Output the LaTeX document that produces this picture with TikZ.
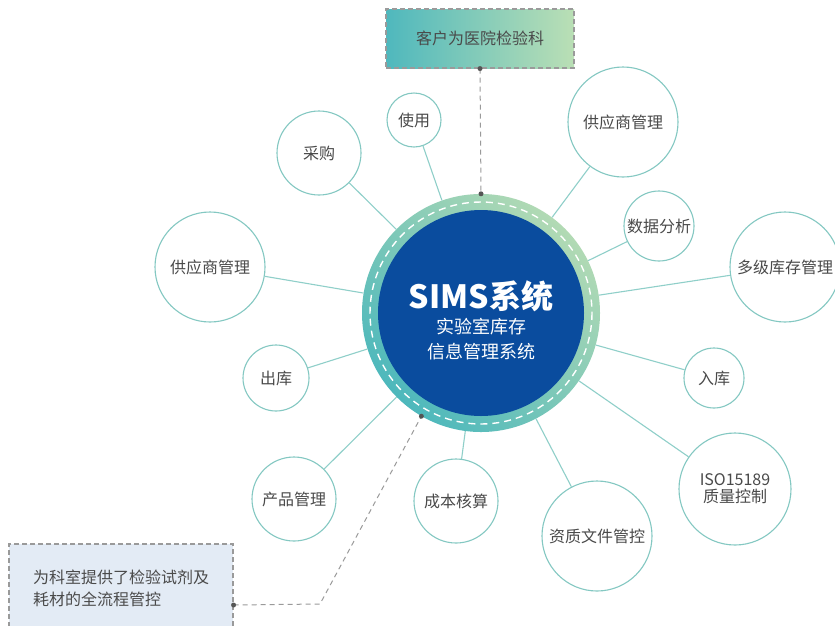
\documentclass[tikz,border=0pt]{standalone}
\usepackage{fontspec}
\setmainfont{Noto Sans CJK SC}
\definecolor{sblue}{HTML}{0A4C9E}
\definecolor{ringteal}{HTML}{4DB8BC}
\definecolor{ringgreen}{HTML}{B2DAB4}
\definecolor{conncol}{HTML}{8FCFC9}
\definecolor{satborder}{HTML}{84C8C2}
\definecolor{txt}{HTML}{4A4A4A}
\definecolor{dashgray}{HTML}{9A9A9A}
\definecolor{boxblue}{HTML}{E3EBF5}
\definecolor{darkdot}{HTML}{555555}
\definecolor{topleft}{HTML}{4FB8BD}
\definecolor{topright}{HTML}{BADFB5}
\begin{document}
\begin{tikzpicture}[x=1pt,y=-1pt,
  sat/.style={circle, draw=satborder, line width=1.1pt, fill=white, inner sep=0pt,
    text=txt, font=\fontsize{16}{20}\selectfont, align=center},
  conn/.style={draw=conncol, line width=1.1pt},
  dashline/.style={draw=dashgray, line width=1pt, dash pattern=on 5pt off 4pt},
  dotnode/.style={circle, fill=darkdot, inner sep=0pt, minimum size=5pt},
  boxstyle/.style={rectangle, draw=dashgray, line width=1.1pt, dash pattern=on 5pt off 3pt, inner sep=0pt}]
\useasboundingbox (0,0) rectangle (835,625);
\fill[white] (0,0) rectangle (835,625);

% hub
\shade[top color=ringgreen, bottom color=ringteal, shading angle=-45] (481,313) circle[radius=119];
\fill[sblue] (481,313) circle[radius=103];
\draw[white, line width=1.4pt, dash pattern=on 7pt off 5pt] (481,313) circle[radius=111];
\node[circle, minimum size=238pt, inner sep=0pt] (hub) at (481,313) {};
\node[text=white, font=\fontsize{32}{36}\selectfont\bfseries, inner sep=0pt] (title) at (481,296) {SIMS系统};
\node[text=white, font=\fontsize{18}{22}\selectfont, inner sep=0pt] (sub1) at (481,327) {实验室库存};
\node[text=white, font=\fontsize{18}{22}\selectfont, inner sep=0pt] (sub2) at (481,352) {信息管理系统};

% satellites
\node[sat, minimum size=54pt]  (s1)  at (414,120) {使用};
\node[sat, minimum size=84pt]  (s2)  at (319,153) {采购};
\node[sat, minimum size=110pt] (s3)  at (210,267) {供应商管理};
\node[sat, minimum size=66pt]  (s4)  at (276,378) {出库};
\node[sat, minimum size=84pt]  (s5)  at (294,499) {产品管理};
\node[sat, minimum size=84pt]  (s6)  at (456,501) {成本核算};
\node[sat, minimum size=110pt] (s7)  at (597,536) {资质文件管控};
\node[sat, minimum size=112pt] (s8)  at (735,489) {ISO15189\\[-3pt]质量控制};
\node[sat, minimum size=60pt]  (s9)  at (714,378) {入库};
\node[sat, minimum size=110pt] (s10) at (785,267) {多级库存管理};
\node[sat, minimum size=70pt]  (s11) at (659,226) {数据分析};
\node[sat, minimum size=110pt] (s12) at (623,122) {供应商管理};

\foreach \s in {s1,s2,s3,s4,s5,s6,s7,s8,s9,s10,s11,s12}
  \draw[conn] (\s) -- (hub);

% top box
\node[boxstyle, left color=topleft, right color=topright, minimum width=188pt, minimum height=59pt,
  text=txt, font=\fontsize{16}{20}\selectfont] (topbox) at (480,38.5) {客户为医院检验科};

% bottom box
\node[boxstyle, fill=boxblue, minimum width=224pt, minimum height=122pt] (botbox) at (121,605) {};
\node[anchor=west, align=left, inner sep=0pt, text=txt, font=\fontsize{16}{22}\selectfont] (bottxt) at (33,588)
  {为科室提供了检验试剂及\\耗材的全流程管控};

% dashed links
\coordinate (bend) at (320,604);
\draw[dashline] (topbox.south) -- (hub.north);
\draw[dashline] (botbox.east) -- (bend) -- (hub.240);
\node[dotnode] (d1) at (topbox.south) {};
\node[dotnode] (d2) at (hub.north) {};
\node[dotnode] (d3) at (botbox.east) {};
\node[dotnode] (d4) at (hub.240) {};
\end{tikzpicture}
\end{document}
